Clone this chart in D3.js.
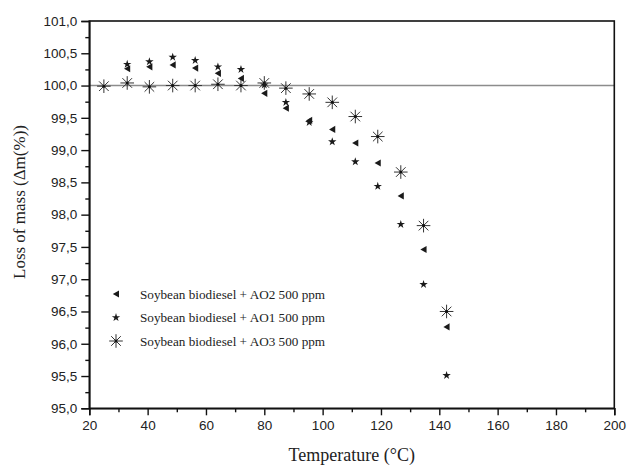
<!DOCTYPE html>
<html>
<head>
<meta charset="utf-8">
<script src="https://cdn.jsdelivr.net/npm/d3@7"></script>
<style>
  html, body { margin: 0; padding: 0; background: #fff; }
  svg { display: block; }
</style>
</head>
<body>
<svg id="chart" width="627" height="466"></svg>
<script>
// Temperatures (°C) at which mass was recorded
const temperature = [25, 33, 40.6, 48.6, 56.3, 64.1, 72, 80, 87.4, 95.4, 103.3, 111.2, 118.9, 126.8, 134.6, 142.5];

// Remaining mass (%) for each antioxidant blend
const massAO2 = [null, 100.26, 100.29, 100.32, 100.27, 100.19, 100.11, 99.88, 99.65, 99.46, 99.32, 99.11, 98.80, 98.29, 97.46, 96.26];
const massAO1 = [null, 100.33, 100.37, 100.44, 100.39, 100.29, 100.25, 100.01, 99.74, 99.43, 99.13, 98.82, 98.44, 97.85, 96.92, 95.51];
const massAO3 = [99.99, 100.04, 99.98, 100.0, 100.0, 100.02, 100.0, 100.04, 99.96, 99.87, 99.74, 99.52, 99.21, 98.66, 97.83, 96.50];

const seriesNames = [
  "Soybean biodiesel + AO2 500 ppm",
  "Soybean biodiesel + AO1 500 ppm",
  "Soybean biodiesel + AO3 500 ppm"
];

const xTicks = [20, 40, 60, 80, 100, 120, 140, 160, 180, 200];
const yTicks = [95, 95.5, 96, 96.5, 97, 97.5, 98, 98.5, 99, 99.5, 100, 100.5, 101];
const referenceLevel = 100;

const svg = d3.select("#chart");
const plotLeft = 89.3, plotRight = 614.3, plotTop = 21, plotBottom = 408.3;

const x = d3.scaleLinear().domain([20, 200]).range([plotLeft, plotRight]);
const y = d3.scaleLinear().domain([95, 101]).range([plotBottom, plotTop]);

const fmtY = v => d3.format(".1f")(v).replace(".", ",");

// reference line at 100 %
svg.append("line")
  .attr("x1", x(20)).attr("x2", x(200))
  .attr("y1", y(referenceLevel)).attr("y2", y(referenceLevel))
  .attr("stroke", "#8c8c8c").attr("stroke-width", 1.6);

// frame
svg.append("rect")
  .attr("x", plotLeft).attr("y", plotTop)
  .attr("width", plotRight - plotLeft).attr("height", plotBottom - plotTop)
  .attr("fill", "none").attr("stroke", "#111").attr("stroke-width", 1.6);

// minor ticks
const xMinor = d3.range(30, 200, 20);
const yMinor = d3.range(95.25, 101, 0.5);

svg.append("g").attr("transform", `translate(0,${plotBottom})`)
  .call(d3.axisBottom(x).tickValues(xTicks).tickSize(7).tickPadding(5).tickFormat(d3.format("d")));
svg.append("g").attr("transform", `translate(0,${plotBottom})`)
  .call(d3.axisBottom(x).tickValues(xMinor).tickSize(4).tickFormat(""))
  .call(g => g.select(".domain").remove());

svg.append("g").attr("transform", `translate(${plotLeft},0)`)
  .call(d3.axisLeft(y).tickValues(yTicks).tickSize(8).tickPadding(4).tickFormat(fmtY));
svg.append("g").attr("transform", `translate(${plotLeft},0)`)
  .call(d3.axisLeft(y).tickValues(yMinor).tickSize(4).tickFormat(""))
  .call(g => g.select(".domain").remove());

svg.selectAll(".domain").attr("stroke", "#111").attr("stroke-width", 1.6);
svg.selectAll(".tick line").attr("stroke", "#111").attr("stroke-width", 1.4);
svg.selectAll(".tick text")
  .attr("font-family", "'Liberation Sans', Arial, sans-serif")
  .attr("font-size", 13.5).attr("fill", "#222");

// marker shapes
const triangle = "M-3.2,0 L3,-3.6 L3,3.6 Z";
const star = d3.symbol().type(d3.symbolStar).size(22)();
function asterisk(g, r) {
  const a = r * Math.SQRT1_2;
  const path = `M${-r},0L${r},0M0,${-r}L0,${r}M${-a},${-a}L${a},${a}M${-a},${a}L${a},${-a}`;
  g.append("path").attr("d", path).attr("stroke", "#333").attr("stroke-width", 1).attr("fill", "none");
  g.append("circle").attr("r", 1.5).attr("fill", "#111");
}

function points(values, draw) {
  const data = temperature.map((t, i) => ({ t, v: values[i] })).filter(d => d.v != null);
  svg.append("g").selectAll("g").data(data).join("g")
    .attr("transform", d => `translate(${x(d.t)},${y(d.v)})`)
    .each(function () { draw(d3.select(this)); });
}

const drawTri = g => g.append("path").attr("d", triangle).attr("fill", "#1a1a1a");
const drawStar = g => g.append("path").attr("d", star).attr("fill", "#1a1a1a");
const drawAst = g => asterisk(g, 6.8);

points(massAO3, drawAst);
points(massAO2, drawTri);
points(massAO1, drawStar);

// legend
const legend = svg.append("g");
const drawers = [drawTri, drawStar, drawAst];
seriesNames.forEach((name, i) => {
  const ly = 294 + i * 23.5;
  const glyph = legend.append("g").attr("transform", `translate(116,${ly})`);
  drawers[i](glyph);
  legend.append("text")
    .attr("x", 140).attr("y", ly + 4.5)
    .attr("font-family", "'Liberation Serif', 'Times New Roman', serif")
    .attr("font-size", 13.2).attr("fill", "#222")
    .text(name);
});

// axis titles
svg.append("text")
  .attr("x", (plotLeft + plotRight) / 2).attr("y", 461)
  .attr("text-anchor", "middle")
  .attr("font-family", "'Liberation Serif', 'Times New Roman', serif")
  .attr("font-size", 18).attr("fill", "#222")
  .text("Temperature (°C)");

svg.append("text")
  .attr("transform", "translate(25,202) rotate(-90)")
  .attr("text-anchor", "middle")
  .attr("font-family", "'Liberation Serif', 'Times New Roman', serif")
  .attr("font-size", 17).attr("fill", "#222")
  .text("Loss of mass (Δm(%))");
</script>
</body>
</html>
